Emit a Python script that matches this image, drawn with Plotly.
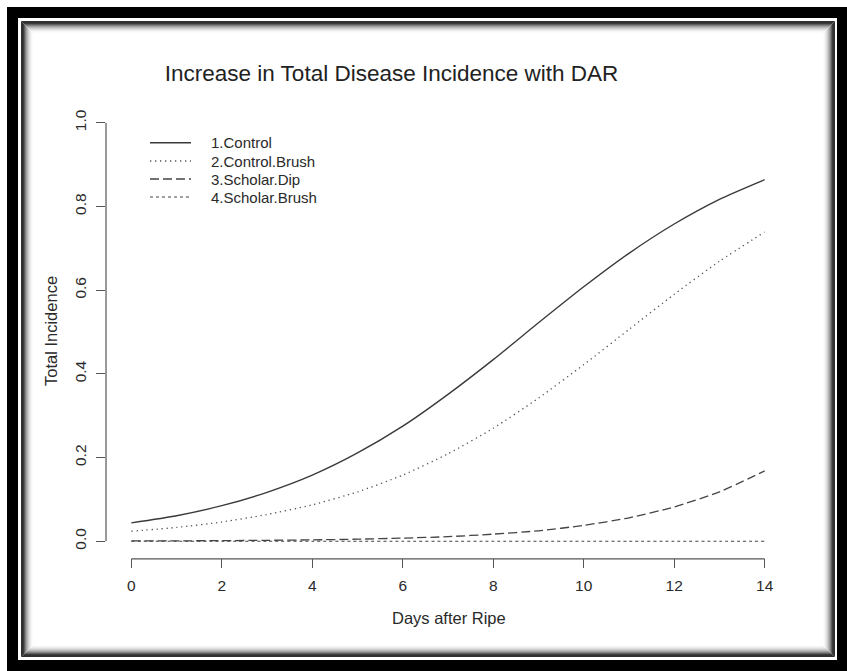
import plotly.graph_objects as go

# ---------------- data ----------------
days = [0, 1, 2, 3, 4, 5, 6, 7, 8, 9, 10, 11, 12, 13, 14]
control = [0.044, 0.061, 0.085, 0.117, 0.158, 0.211, 0.275, 0.351, 0.434,
           0.522, 0.608, 0.688, 0.758, 0.817, 0.864]
control_brush = [0.024, 0.033, 0.046, 0.064, 0.087, 0.118, 0.158, 0.209, 0.270,
                 0.342, 0.422, 0.506, 0.590, 0.669, 0.739]
scholar_dip = [0.001, 0.001, 0.0015, 0.0022, 0.0033, 0.005, 0.0075, 0.011, 0.017,
               0.025, 0.038, 0.056, 0.082, 0.118, 0.168]
scholar_brush = [0.0, 0.0, 0.0, 0.0, 0.0, 0.0, 0.0, 0.0, 0.0,
                 0.0, 0.0, 0.0, 0.0, 0.0, 0.0]
series_names = ["1.Control", "2.Control.Brush", "3.Scholar.Dip", "4.Scholar.Brush"]
x_ticks = [0, 2, 4, 6, 8, 10, 12, 14]
y_ticks = [0.0, 0.2, 0.4, 0.6, 0.8, 1.0]
y_tick_labels = ["0.0", "0.2", "0.4", "0.6", "0.8", "1.0"]
title_text = "Increase in Total Disease Incidence with DAR"
x_title = "Days after Ripe"
y_title = "Total Incidence"

# ---------------- layout geometry ----------------
W, H = 847, 671
L, R, T, B = 106, 57, 106, 113
PW, PH = W - L - R, H - T - B
FONT = "Liberation Sans, Arial, Helvetica, sans-serif"
LINE_COL = "#3c3c3c"
TEXT_COL = "#2a2a2a"


def px2x(px):
    return (px - L) / PW


def py2y(py):
    return (H - B - py) / PH


styles = [
    dict(dash="solid", width=1.4, color="#3a3a3a"),
    dict(dash="1.3px,3.7px", width=1.3, color="#555555"),
    dict(dash="9px,4px", width=1.3, color="#444444"),
    dict(dash="3px,3px", width=1.2, color="#444444"),
]
series = [control, control_brush, scholar_dip, scholar_brush]

fig = go.Figure()
for name, vals, st in zip(series_names, series, styles):
    fig.add_trace(go.Scatter(
        x=days, y=vals, mode="lines", name=name, showlegend=False,
        line=dict(color=st["color"], width=st["width"], dash=st["dash"],
                  shape="spline", smoothing=0.6),
    ))

shapes = []
# ---- decorative photo frame ----
shapes.append(dict(type="rect", xref="paper", yref="paper", layer="below",
                   x0=px2x(7), x1=px2x(W + 2), y0=py2y(H + 2), y1=py2y(7),
                   fillcolor="black", line=dict(width=0)))
shapes.append(dict(type="rect", xref="paper", yref="paper", layer="below",
                   x0=px2x(18), x1=px2x(837), y0=py2y(660), y1=py2y(18),
                   fillcolor="white", line=dict(width=0)))
shade = [48, 48, 60, 95, 130, 160, 185, 205, 222, 236, 246, 252]
for i, g in enumerate(shade):
    shapes.append(dict(type="rect", xref="paper", yref="paper", layer="below",
                       x0=px2x(21.5 + i), x1=px2x(834.5 - i),
                       y0=py2y(656.5 - i), y1=py2y(21.5 + i),
                       line=dict(color=f"rgb({g},{g},{g})", width=1)))
shapes.append(dict(type="rect", xref="paper", yref="paper", layer="below",
                   x0=px2x(21.5 + len(shade)), x1=px2x(834.5 - len(shade)),
                   y0=py2y(656.5 - len(shade)), y1=py2y(21.5 + len(shade)),
                   fillcolor="white", line=dict(width=0)))

# ---- R-style axis lines (span first to last tick) ----
shapes.append(dict(type="line", xref="x", yref="paper",
                   x0=x_ticks[0], x1=x_ticks[-1], y0=-0.002, y1=-0.002,
                   line=dict(color="#555555", width=1.2)))
shapes.append(dict(type="line", xref="paper", yref="y",
                   x0=0, x1=0, y0=y_ticks[0], y1=y_ticks[-1],
                   line=dict(color="#555555", width=1.2)))

# ---- legend (R style, no box) ----
annotations = []
legend_rows = [142.7, 161, 179, 197]
for name, st, ry in zip(series_names, styles, legend_rows):
    shapes.append(dict(type="line", xref="paper", yref="paper",
                       x0=px2x(150), x1=px2x(191), y0=py2y(ry), y1=py2y(ry),
                       line=dict(color=st["color"], width=st["width"], dash=st["dash"])))
    annotations.append(dict(xref="paper", yref="paper", x=px2x(209), y=py2y(ry),
                            text=name, showarrow=False, xanchor="left", yanchor="middle",
                            font=dict(family=FONT, size=15, color=TEXT_COL)))

# ---- axis titles ----
annotations.append(dict(xref="paper", yref="paper", x=px2x(449), y=py2y(618),
                        text=x_title, showarrow=False, xanchor="center", yanchor="middle",
                        font=dict(family=FONT, size=16.5, color=TEXT_COL)))
annotations.append(dict(xref="paper", yref="paper", x=px2x(51), y=py2y(331),
                        text=y_title, showarrow=False, textangle=-90,
                        xanchor="center", yanchor="middle",
                        font=dict(family=FONT, size=16.5, color=TEXT_COL)))

fig.update_layout(
    width=W, height=H, autosize=False,
    margin=dict(l=L, r=R, t=T, b=B, pad=0),
    paper_bgcolor="white", plot_bgcolor="rgba(0,0,0,0)",
    title=dict(text=title_text, x=391.5 / W, y=1 - 73 / H, xref="container", yref="container",
               xanchor="center", yanchor="middle",
               font=dict(family=FONT, size=22.5, color="#222222")),
    shapes=shapes, annotations=annotations,
    showlegend=False,
    xaxis=dict(range=[-0.56, 14.56], tickvals=x_ticks, ticks="outside", ticklen=9,
               tickwidth=1.2, tickcolor="#555555", showgrid=False, zeroline=False,
               showline=False, ticklabelstandoff=4,
               tickfont=dict(family=FONT, size=15.5, color=TEXT_COL)),
    yaxis=dict(range=[-0.04, 1.04], tickvals=y_ticks, ticktext=y_tick_labels,
               ticks="outside", ticklen=9, tickwidth=1.2, tickcolor="#555555",
               showgrid=False, zeroline=False, showline=False, tickangle=-90,
               ticklabelstandoff=4,
               tickfont=dict(family=FONT, size=15.5, color=TEXT_COL)),
)

fig.write_html("out.html")
